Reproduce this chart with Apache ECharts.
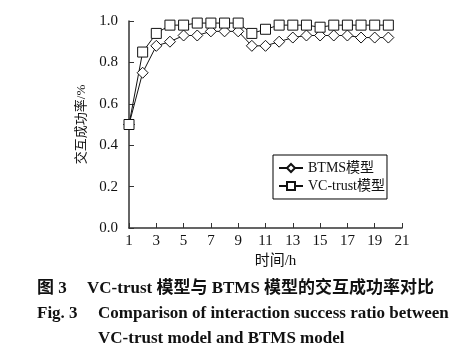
<!DOCTYPE html>
<html><head><meta charset="utf-8">
<script src="https://cdn.jsdelivr.net/npm/echarts@6/dist/echarts.min.js"></script>
<style>html,body{margin:0;padding:0;background:#fff}#c{width:468px;height:357px}</style>
</head><body><div id="c"></div>
<script>
const hours = [1,2,3,4,5,6,7,8,9,10,11,12,13,14,15,16,17,18,19,20];
const btms = [0.50,0.75,0.88,0.90,0.93,0.93,0.95,0.95,0.95,0.88,0.88,0.90,0.92,0.93,0.93,0.93,0.93,0.92,0.92,0.92];
const vctrust = [0.50,0.85,0.94,0.98,0.98,0.99,0.99,0.99,0.99,0.94,0.96,0.98,0.98,0.98,0.97,0.98,0.98,0.98,0.98,0.98];
const seriesNames = ['BTMS模型','VC-trust模型'];
const yTicks = [0.0,0.2,0.4,0.6,0.8,1.0];
const xTicks = [1,3,5,7,9,11,13,15,17,19,21];
const caption1a = '图 3';
const caption1b = 'VC-trust 模型与 BTMS 模型的交互成功率对比';
const caption2a = 'Fig. 3';
const caption2b = 'Comparison of interaction success ratio between';
const caption3 = 'VC-trust model and BTMS model';

const FONT = '"Liberation Serif","Times New Roman","Noto Sans CJK SC",serif';
const chart = echarts.init(document.getElementById('c'));
const mk = (arr) => hours.map((h,i)=>[h,arr[i]]);
const cap = (text,x,y) => ({type:'text',x:x,y:y,style:{text:text,font:'bold 17px '+FONT,fill:'#111',textVerticalAlign:'middle',verticalAlign:'middle'}});
chart.setOption({
  animation:false,
  backgroundColor:'#fff',
  grid:{left:129,right:66,top:21,bottom:129},
  xAxis:{type:'value',min:xTicks[0],max:xTicks[xTicks.length-1],interval:2,
    name:'时间/h',nameLocation:'middle',nameGap:22,
    nameTextStyle:{fontFamily:FONT,fontSize:15,color:'#111',padding:[0,0,0,20]},
    axisLine:{lineStyle:{color:'#333',width:1.5}},
    axisTick:{inside:true,length:5,lineStyle:{color:'#333'}},
    axisLabel:{fontFamily:FONT,fontSize:15,color:'#111',margin:6},
    splitLine:{show:false}},
  yAxis:{type:'value',min:yTicks[0],max:yTicks[yTicks.length-1],interval:0.2,
    name:'交互成功率/%',nameLocation:'middle',nameGap:31,
    nameTextStyle:{fontFamily:FONT,fontSize:13,color:'#111'},
    axisLine:{show:true,lineStyle:{color:'#333',width:1.5}},
    axisTick:{show:true,inside:true,length:5,lineStyle:{color:'#333'}},
    axisLabel:{fontFamily:FONT,fontSize:15,color:'#111',margin:11,formatter:v=>v.toFixed(1)},
    splitLine:{show:false}},
  legend:{orient:'vertical',left:273,top:155,
    borderColor:'#000',borderWidth:1,padding:[6,2,6,5],itemGap:4,
    itemWidth:24,itemHeight:10,
    textStyle:{fontFamily:FONT,fontSize:14,color:'#111'},
    data:seriesNames},
  series:[
    {name:seriesNames[0],type:'line',data:mk(btms),symbol:'diamond',symbolSize:11,
     lineStyle:{color:'#111',width:1},itemStyle:{color:'#fff',borderColor:'#111',borderWidth:1}},
    {name:seriesNames[1],type:'line',data:mk(vctrust),symbol:'rect',symbolSize:10,
     lineStyle:{color:'#111',width:1},itemStyle:{color:'#fff',borderColor:'#111',borderWidth:1}}
  ],
  graphic:[
    cap(caption1a,37,289), cap(caption1b,87,289),
    cap(caption2a,37,314), cap(caption2b,98,314),
    cap(caption3,98,339)
  ]
});
</script></body></html>
